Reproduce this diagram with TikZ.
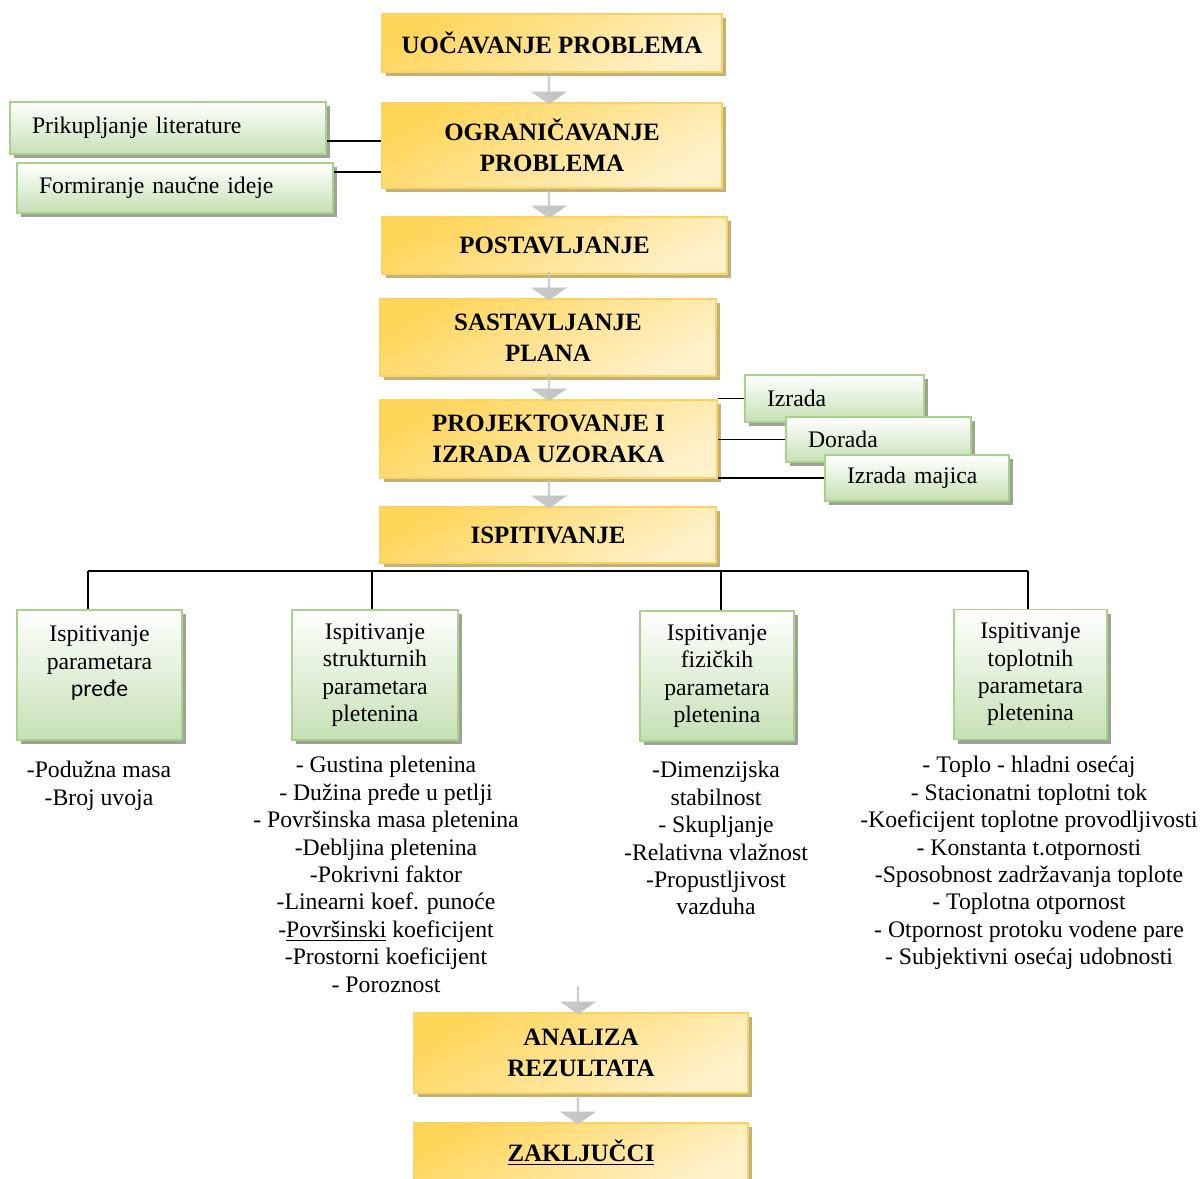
\documentclass[tikz,border=0pt]{standalone}
\usepackage{fontspec}
\setmainfont{Liberation Serif}
\newfontfamily\calfont{Carlito}
\usetikzlibrary{positioning}
\usetikzlibrary{shapes}
\usetikzlibrary{shadows}
\definecolor{ygold}{HTML}{FFD55A}
\definecolor{ylight}{HTML}{FFF1CA}
\definecolor{yedge}{HTML}{FAD45E}
\definecolor{yshadow}{HTML}{C2AF7C}
\definecolor{gfill}{HTML}{C5E0B4}
\definecolor{gedge}{HTML}{A9D18E}
\definecolor{gshadow}{HTML}{9EA394}
\tikzset{
  korak/.style={draw=yedge, line width=0.9pt, top color=ygold, bottom color=ylight,
    shading angle=30, drop shadow={shadow xshift=0.08cm, shadow yshift=-0.08cm, fill=yshadow, opacity=1},
    font=\fontsize{14.2}{17.6}\selectfont\bfseries, align=center, inner sep=0pt},
  zeleni/.style={draw=gedge, line width=1pt, top color=white, bottom color=gfill,
    drop shadow={shadow xshift=0.08cm, shadow yshift=-0.08cm, fill=gshadow, opacity=1},
    font=\fontsize{13.5}{15.6}\selectfont, inner sep=0pt},
  bocni/.style={zeleni, align=left, inner xsep=0.44cm},
  grupa/.style={zeleni, align=center},
  veza/.style={line width=0.85pt},
  spisak/.style={align=center, anchor=north, inner sep=0pt, font=\fontsize{13.5}{15.6}\selectfont},
  strelica/.style={single arrow, shape border rotate=270, minimum height=0.54cm, minimum width=0.68cm,
    single arrow head extend=0.17cm, single arrow tip angle=110, inner sep=0pt,
    left color=gray!40, middle color=gray!5, right color=gray!50, draw=gray!45, anchor=tip}
}
\begin{document}
\begin{tikzpicture}[x=0.02cm, y=-0.02cm]
  \useasboundingbox (0,0) rectangle (1203,1178);
  % glavni koraci
  \foreach \ime/\x/\y/\w/\h/\tekst in {
      y1/552/43/6.8/1.16/{UOČAVANJE PROBLEMA},
      y2/552/145.5/6.8/1.7/{OGRANIČAVANJE\\PROBLEMA},
      y3/554.5/245.5/6.9/1.14/{POSTAVLJANJE},
      y4/548/337.5/6.72/1.54/{SASTAVLJANJE\\PLANA},
      y5/548.5/439/6.74/1.56/{PROJEKTOVANJE I\\IZRADA UZORAKA},
      y6/548/535/6.72/1.12/{ISPITIVANJE},
      y7/581/1053/6.68/1.6/{ANALIZA\\REZULTATA},
      y8/581/1153/6.68/1.2/{\underline{ZAKLJUČCI}}}
    \node[korak, minimum width=\w cm, minimum height=\h cm] (\ime) at (\x,\y) {\tekst};
  % bocni zadaci
  \node[bocni, text width=5.44cm, minimum height=1.04cm] (lit) at (168,128) {Prikupljanje literature};
  \node[bocni, text width=5.44cm, minimum height=1cm] (ideja) at (175,188) {Formiranje naučne ideje};
  \draw[veza] ([yshift=-0.26cm]lit.east) -- ([yshift=-0.26cm]lit.east -| y2.west);
  \draw[veza] ([yshift=0.32cm]ideja.east) -- ([yshift=0.32cm]ideja.east -| y2.west);
  \foreach \ime/\x/\y/\w/\h/\tekst in {
      izr/834.5/398.5/3.58/0.94/Izrada,
      dor/878.5/439.5/3.7/0.9/Dorada,
      maj/917/478/3.68/0.92/Izrada majica} {
    \node[bocni, text width=\w cm-0.88cm, minimum height=\h cm] (\ime) at (\x,\y) {\tekst};
    \draw[veza] (\ime.west -| y5.east) -- (\ime.west);
  }
  % strelice
  \coordinate (kol) at (549,0);
  \coordinate (kol2) at (578,0);
  \foreach \ime/\k in {y2/kol,y3/kol,y4/kol,y5/kol,y6/kol,y7/kol2,y8/kol2}
    \node[strelica] (s-\ime) at ([yshift=-0.04cm]\ime.north -| \k) {};
  % ispitivanja
  \coordinate (sab) at (0,571);
  \foreach \ime/\x/\y/\w/\tekst/\pom in {
      b1/99.5/675/3.3/{Ispitivanje\\parametara\\{\calfont pređe}\\~}/-0.23,
      b2/375/675/3.32/{Ispitivanje\\strukturnih\\parametara\\pletenina}/-0.06,
      b3/717/676/3.08/{Ispitivanje\\fizičkih\\parametara\\pletenina}/0.08,
      b4/1030.5/674.5/3.06/{Ispitivanje\\toplotnih\\parametara\\pletenina}/-0.05} {
    \node[grupa, minimum width=\w cm, minimum height=2.6cm] (\ime) at (\x,\y) {\tekst};
    \draw[veza] ([xshift=\pom cm]\ime.north) -- ([xshift=\pom cm]\ime.north |- sab);
  }
  \draw[veza] ([xshift=-0.23cm]b1.north |- sab) -- ([xshift=-0.05cm]b4.north |- sab);
  % parametri
  \node[spisak] (l1) at (99,761) {-Podužna masa\\-Broj uvoja};
  \node[spisak] (l2) at (386,756) {- Gustina pletenina\\- Dužina pređe u petlji\\- Površinska masa pletenina\\-Debljina pletenina\\-Pokrivni faktor\\-Linearni koef. punoće\\-\underline{Površinski} koeficijent\\-Prostorni koeficijent\\- Poroznost};
  \node[spisak] (l3) at (716,761) {-Dimenzijska\\stabilnost\\- Skupljanje\\-Relativna vlažnost\\-Propustljivost\\vazduha};
  \node[spisak] (l4) at (1029,756) {- Toplo - hladni osećaj\\- Stacionatni toplotni tok\\-Koeficijent toplotne provodljivosti\\- Konstanta t.otpornosti\\-Sposobnost zadržavanja toplote\\- Toplotna otpornost\\- Otpornost protoku vodene pare\\- Subjektivni osećaj udobnosti};
\end{tikzpicture}
\end{document}
